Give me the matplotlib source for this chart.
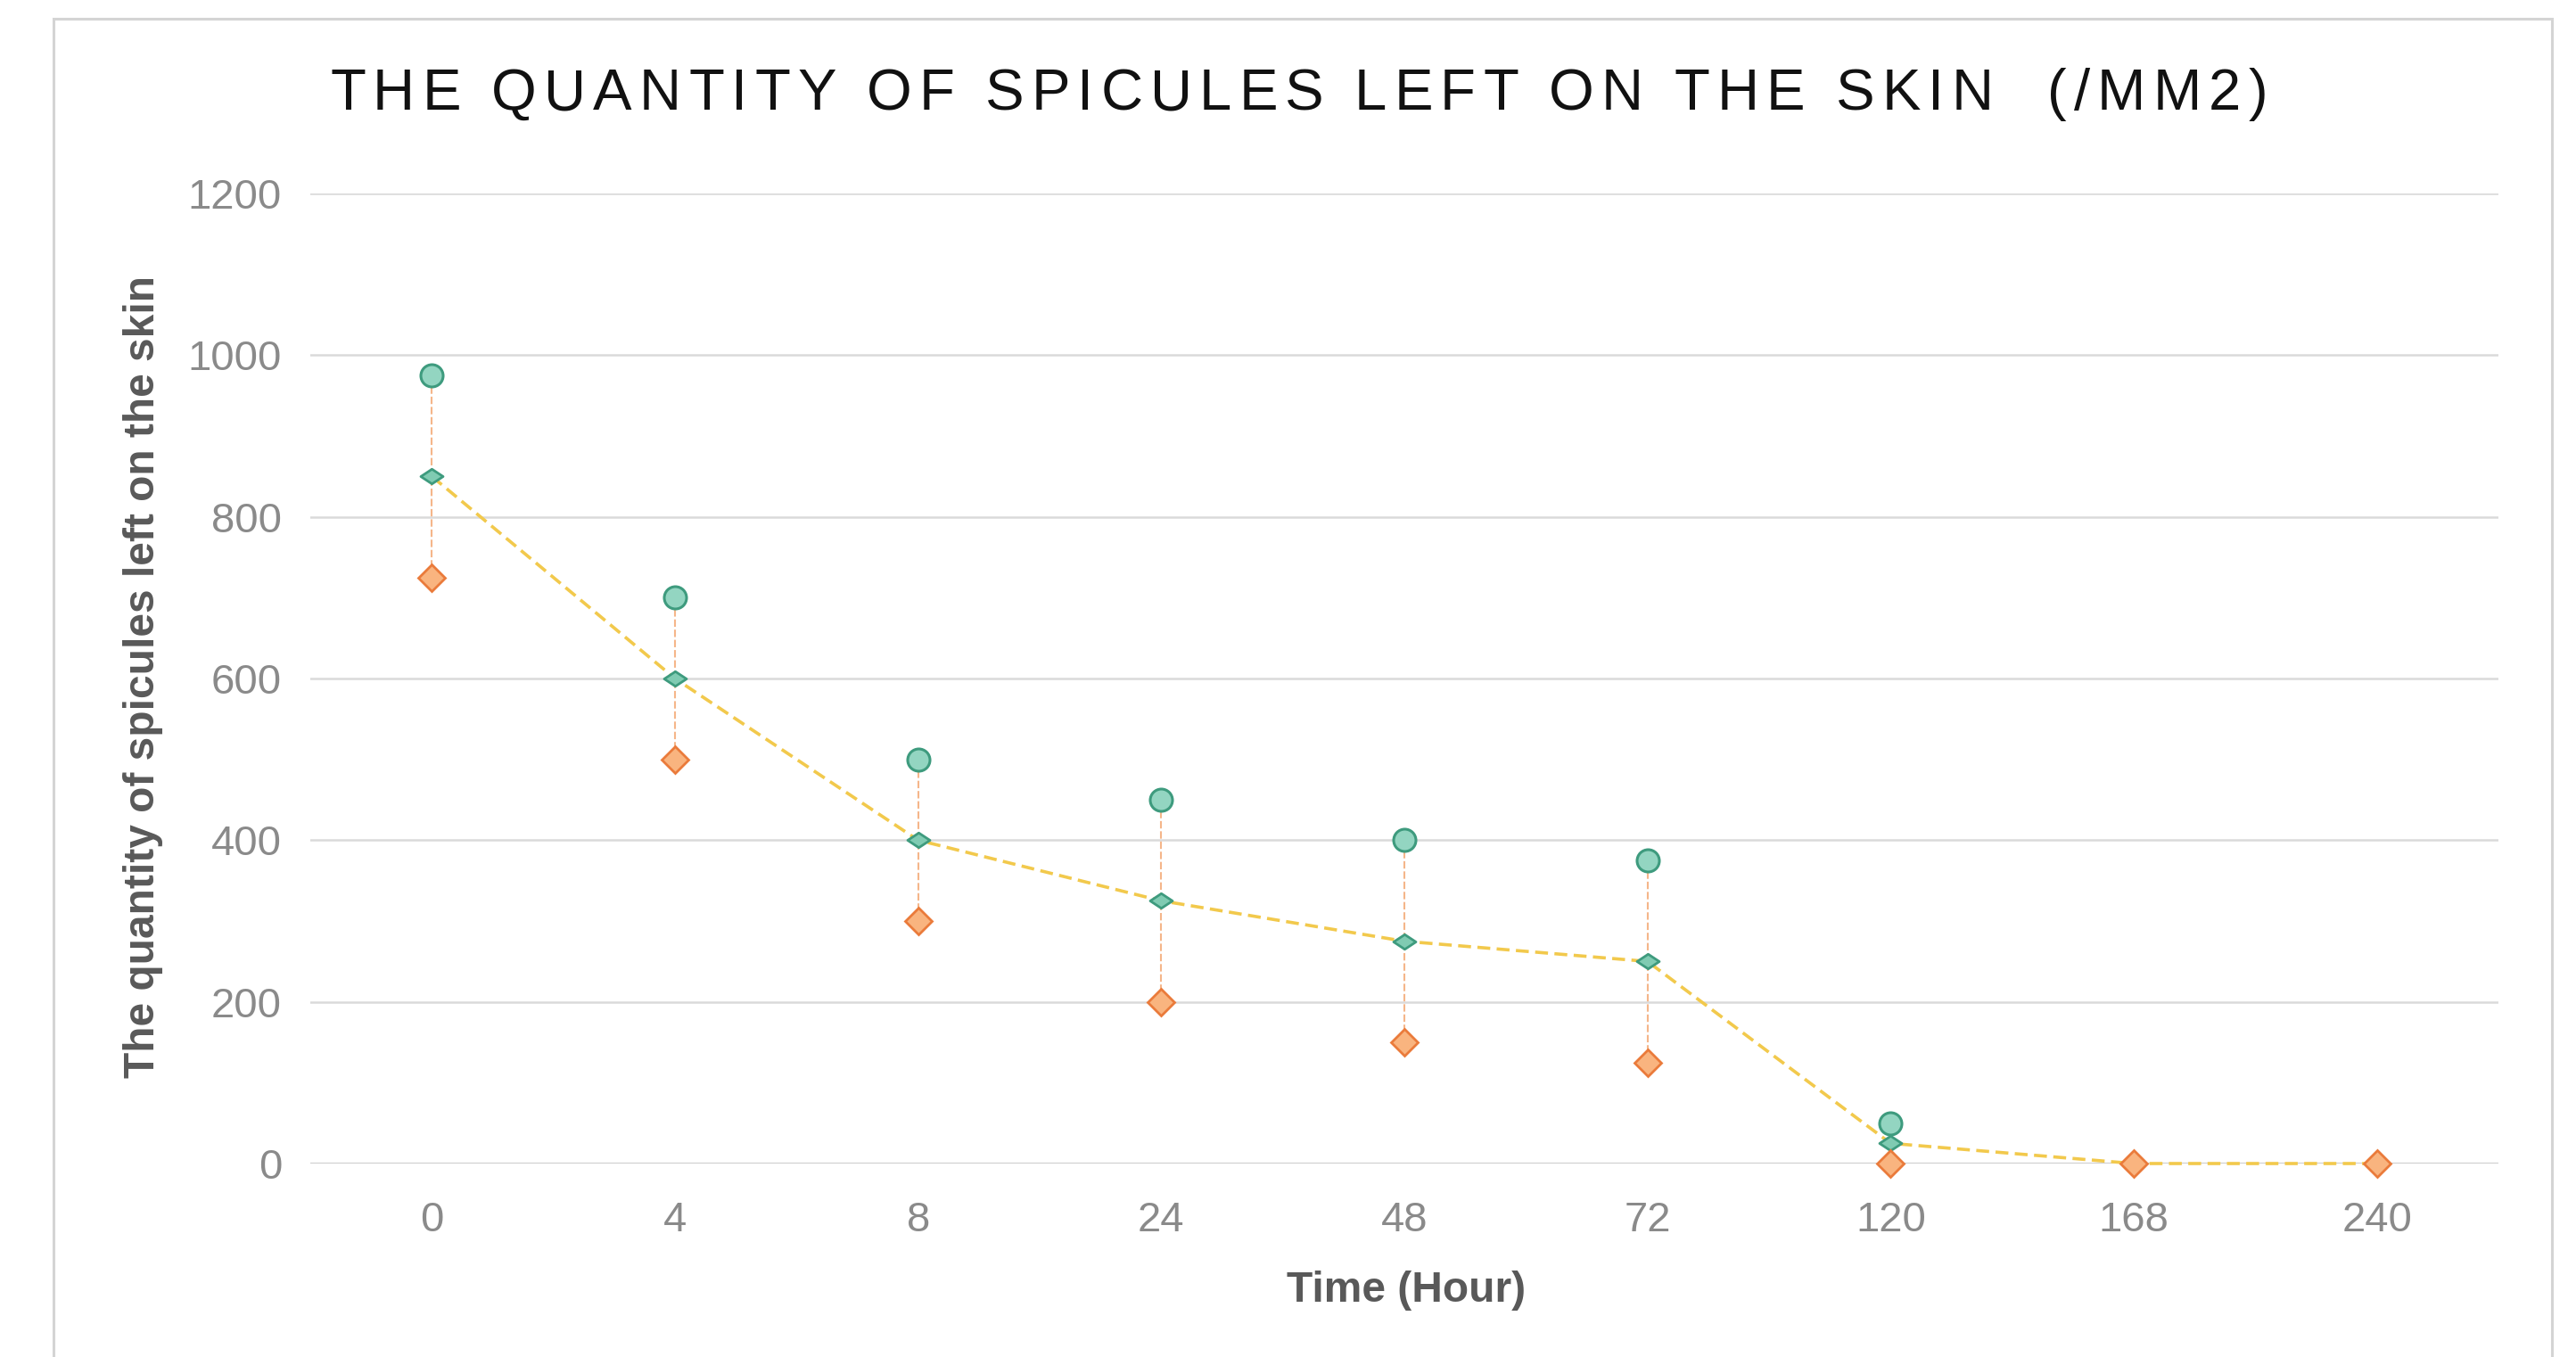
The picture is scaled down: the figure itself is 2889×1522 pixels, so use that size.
import numpy as np
import matplotlib
matplotlib.use('Agg')
import matplotlib.pyplot as plt
from matplotlib.patches import Rectangle
from matplotlib.path import Path
from matplotlib import font_manager
from matplotlib.ft2font import FT2Font

# ---------------- data ----------------
hours = ['0', '4', '8', '24', '48', '72', '120', '168', '240']
upper = [975, 700, 500, 450, 400, 375, 50, np.nan, np.nan]
mean = [850, 600, 400, 325, 275, 250, 25, 0, 0]
lower = [725, 500, 300, 200, 150, 125, 0, 0, 0]
yticks = [0, 200, 400, 600, 800, 1000, 1200]
title = "THE QUANTITY OF SPICULES LEFT ON THE SKIN  (/MM2)"
xlabel = "Time (Hour)"
ylabel = "The quantity of spicules left on the skin"

plt.rcParams['font.family'] = ['Liberation Sans', 'DejaVu Sans']

W, H, DPI = 2889, 1522, 100
fig = plt.figure(figsize=(W / DPI, H / DPI), dpi=DPI)
fig.patch.set_facecolor('white')

# outer border
fig.add_artist(Rectangle((60 / W, -0.05), (2862 - 60) / W, (H - 21) / H + 0.05,
                         transform=fig.transFigure, fill=False,
                         edgecolor='#d4d4d4', linewidth=2.2))

ax = fig.add_axes([348 / W, (H - 1305) / H, (2802 - 348) / W, (1305 - 217) / H])
x = np.arange(len(hours))
up = np.array(upper, dtype=float)
lo = np.array(lower, dtype=float)
mn = np.array(mean, dtype=float)

ax.set_xlim(-0.5, len(hours) - 0.5)
ax.set_ylim(0, 1200)
ax.set_yticks(yticks)
ax.set_xticks(x, hours)
ax.yaxis.grid(True, color='#dadada', linewidth=1.8, zorder=0)
ax.set_axisbelow(True)
for s in ax.spines.values():
    s.set_visible(False)
ax.axhline(0, color='#cccccc', linewidth=2.2, zorder=1)
ax.tick_params(axis='both', length=0, labelsize=34, labelcolor='#8a8a8a')
ax.tick_params(axis='x', pad=30)
ax.tick_params(axis='y', pad=23)

# vertical dashed range lines
m = ~np.isnan(up)
ax.vlines(x[m], lo[m], up[m], colors='#f5b68a', linewidth=1.5,
          linestyles=(0, (4, 1.5)), zorder=2)

# mean line
ax.plot(x, mn, color='#f2c94c', linewidth=2.6, dashes=(4, 2), zorder=3,
        clip_on=False)

flat_diamond = Path([(-1, 0), (0, 0.66), (1, 0), (0, -0.66), (-1, 0)],
                    [Path.MOVETO, Path.LINETO, Path.LINETO, Path.LINETO, Path.CLOSEPOLY])
ax.plot(x, mn, ls='none', marker=flat_diamond, ms=18, mfc='#80cbb2',
        mec='#3e9b7e', mew=2, zorder=4, clip_on=False)
ax.plot(x, lo, ls='none', marker='D', ms=15, mfc='#f9b47f',
        mec='#ea7b3b', mew=2, zorder=5, clip_on=False)
ax.plot(x, up, ls='none', marker='o', ms=18, mfc='#93d5c1',
        mec='#3e9b7e', mew=2.2, zorder=6, clip_on=False)

# axis labels
fig.text(161 / W, 1 - 759 / H, ylabel, rotation=90, ha='center', va='center',
         fontsize=34.5, fontweight='bold', color='#595959')
fig.text(1577 / W, 1 - 1447 / H, xlabel, ha='center', va='center',
         fontsize=34.5, fontweight='bold', color='#595959')

# letter-spaced title
tsize = 47
fpath = font_manager.findfont(font_manager.FontProperties(family='Liberation Sans'))
ft = FT2Font(fpath)
ft.set_size(tsize, DPI)
advs = []
for ch in title:
    g = ft.load_char(ord(ch))
    advs.append(g.linearHoriAdvance / 65536.0)
x0, x1 = 370.0, 2543.0
extra = ((x1 - x0) - sum(advs)) / (len(title) - 1)
pos = x0
base_y = 1 - 123 / H
for ch, a in zip(title, advs):
    if ch != ' ':
        fig.text(pos / W, base_y, ch, fontsize=tsize, ha='left', va='baseline',
                 color='#111111', family='Liberation Sans')
    pos += a + extra

fig.savefig('out.png', dpi=DPI, facecolor='white')
